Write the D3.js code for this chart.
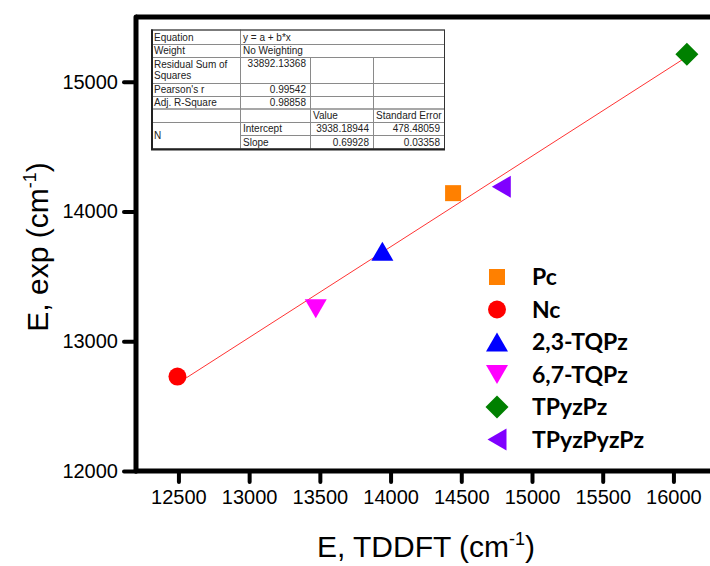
<!DOCTYPE html>
<html>
<head>
<meta charset="utf-8">
<script src="https://cdn.jsdelivr.net/npm/d3@7"></script>
<style>
  body { margin: 0; background: #fff; }
  svg { display: block; }
</style>
</head>
<body>
<svg id="chart" width="710" height="566"></svg>
<script>
// Excitation energies: TDDFT-computed vs. experimental (cm^-1)
const compounds = ["Pc", "Nc", "2,3-TQPz", "6,7-TQPz", "TPyzPz", "TPyzPyzPz"];
const eTDDFT   = [14442, 12493, 13942, 13471, 16095, 14783];
const eExp     = [14142, 12728, 13695, 13250, 15213, 14191];
const markerColors = ["#FF8000", "#FF0000", "#0000FF", "#FF00FF", "#008000", "#8000FF"];
const markerShapes = ["square", "circle", "triangleUp", "triangleDown", "diamond", "triangleLeft"];

const xTickValues = [12500, 13000, 13500, 14000, 14500, 15000, 15500, 16000];
const yTickValues = [12000, 13000, 14000, 15000];

// Linear fit y = a + b*x
const fitIntercept = 3938.18944;
const fitSlope = 0.69928;

// Fit statistics table: [rowStart, rowEnd, colStart, colEnd, text, align]
const tableCells = [
  [0, 1, 0, 1, "Equation", "start"], [0, 1, 1, 4, "y = a + b*x", "start"],
  [1, 2, 0, 1, "Weight", "start"], [1, 2, 1, 4, "No Weighting", "start"],
  [2, 3, 0, 1, "Residual Sum of|Squares", "start"], [2, 3, 1, 2, "33892.13368", "end"],
  [2, 3, 2, 3, "", "start"], [2, 3, 3, 4, "", "start"],
  [3, 4, 0, 1, "Pearson's r", "start"], [3, 4, 1, 2, "0.99542", "end"],
  [3, 4, 2, 3, "", "start"], [3, 4, 3, 4, "", "start"],
  [4, 5, 0, 1, "Adj. R-Square", "start"], [4, 5, 1, 2, "0.98858", "end"],
  [4, 5, 2, 3, "", "start"], [4, 5, 3, 4, "", "start"],
  [5, 6, 0, 1, "", "start"], [5, 6, 1, 2, "", "start"],
  [5, 6, 2, 3, "Value", "start"], [5, 6, 3, 4, "Standard Error", "start"],
  [6, 8, 0, 1, "N", "start"],
  [6, 7, 1, 2, "Intercept", "start"], [6, 7, 2, 3, "3938.18944", "end"], [6, 7, 3, 4, "478.48059", "end"],
  [7, 8, 1, 2, "Slope", "start"], [7, 8, 2, 3, "0.69928", "end"], [7, 8, 3, 4, "0.03358", "end"]
];

const svg = d3.select("#chart");
const W = 710, H = 566;
const plot = { left: 136, top: 17, bottom: 471 };

const x = d3.scaleLinear().domain([12200, 16300]).range([plot.left, plot.left + 4100 * 0.141428]);
const y = d3.scaleLinear().domain([12000, 15500]).range([plot.bottom, plot.top]);

const axisFont = "'Liberation Sans', Arial, sans-serif";

// ---- axes ----
const xAxis = svg.append("g")
  .attr("transform", `translate(0,${plot.bottom})`)
  .call(d3.axisBottom(x).tickValues(xTickValues).tickSize(11).tickPadding(8).tickFormat(d3.format("d")));
const yAxis = svg.append("g")
  .attr("transform", `translate(${plot.left},0)`)
  .call(d3.axisLeft(y).tickValues(yTickValues).tickSize(12).tickPadding(6).tickFormat(d3.format("d")));

[xAxis, yAxis].forEach(g => {
  g.select(".domain").remove();
  g.selectAll(".tick line").attr("stroke", "#000").attr("stroke-width", 4).attr("stroke-linecap", "round");
  g.selectAll(".tick text").attr("font-family", axisFont).attr("font-size", 20).attr("fill", "#000");
});

// frame: left, bottom and top spines (right side runs past the edge)
const frame = svg.append("g").attr("stroke", "#000").attr("stroke-width", 5).attr("stroke-linecap", "round");
frame.append("line").attr("x1", plot.left).attr("x2", W + 10).attr("y1", plot.bottom).attr("y2", plot.bottom);
frame.append("line").attr("x1", plot.left).attr("x2", plot.left).attr("y1", plot.top).attr("y2", plot.bottom);
frame.append("line").attr("x1", plot.left).attr("x2", W + 10).attr("y1", plot.top).attr("y2", plot.top)
  .attr("stroke-linecap", "butt");

// ---- axis titles ----
const xTitle = svg.append("text")
  .attr("x", 426).attr("y", 557)
  .attr("text-anchor", "middle")
  .attr("font-family", axisFont).attr("font-size", 30).attr("fill", "#000");
xTitle.append("tspan").text("E, TDDFT (cm");
xTitle.append("tspan").text("-1").attr("font-size", 18).attr("dy", -12);
xTitle.append("tspan").text(")").attr("dy", 12);

const yTitle = svg.append("text")
  .attr("transform", "translate(48,247) rotate(-90)")
  .attr("text-anchor", "middle")
  .attr("font-family", axisFont).attr("font-size", 30).attr("fill", "#000");
yTitle.append("tspan").text("E, exp (cm");
yTitle.append("tspan").text("-1").attr("font-size", 18).attr("dy", -12);
yTitle.append("tspan").text(")").attr("dy", 12);

// ---- fit line ----
const xExtent = d3.extent(eTDDFT);
svg.append("path")
  .datum(xExtent)
  .attr("d", d3.line().x(d => x(d)).y(d => y(fitIntercept + fitSlope * d)))
  .attr("stroke", "#FF0000").attr("stroke-width", 1).attr("stroke-opacity", 0.8).attr("fill", "none");

// ---- marker shapes, centred on their bounding box ----
function markerPath(shape) {
  const p = d3.path();
  switch (shape) {
    case "square": p.rect(-8, -8, 16, 16); break;
    case "circle": p.arc(0, 0, 9, 0, 2 * Math.PI); break;
    case "triangleUp": p.moveTo(0, -9.5); p.lineTo(11, 9.5); p.lineTo(-11, 9.5); p.closePath(); break;
    case "triangleDown": p.moveTo(0, 9.5); p.lineTo(11, -9.5); p.lineTo(-11, -9.5); p.closePath(); break;
    case "triangleLeft": p.moveTo(-9.5, 0); p.lineTo(9.5, -11); p.lineTo(9.5, 11); p.closePath(); break;
    case "diamond": p.moveTo(0, -11.5); p.lineTo(11.5, 0); p.lineTo(0, 11.5); p.lineTo(-11.5, 0); p.closePath(); break;
  }
  return p.toString();
}

// ---- data points ----
svg.append("g").selectAll("path")
  .data(compounds.map((c, i) => ({ c, xv: eTDDFT[i], yv: eExp[i], color: markerColors[i], shape: markerShapes[i] })))
  .join("path")
  .attr("transform", d => `translate(${x(d.xv)},${y(d.yv)})`)
  .attr("d", d => markerPath(d.shape))
  .attr("fill", d => d.color);

// ---- legend ----
const legend = svg.append("g").attr("transform", "translate(497,277)");
const rows = legend.selectAll("g").data(compounds).join("g")
  .attr("transform", (d, i) => `translate(0,${i * 32.5})`);
rows.append("path")
  .attr("d", (d, i) => markerPath(markerShapes[i]))
  .attr("fill", (d, i) => markerColors[i]);
rows.append("text")
  .attr("x", 35).attr("y", 8)
  .attr("font-family", "Lato, 'Open Sans', sans-serif")
  .attr("font-weight", "bold").attr("font-size", 23).attr("fill", "#000")
  .text(d => d);

// ---- fit statistics table ----
const colX = [151, 240, 310, 373, 444];
const rowY = [29.5, 44, 57, 83, 96, 108.5, 122, 135, 148.5];
const table = svg.append("g");
table.append("rect")
  .attr("x", colX[0]).attr("y", rowY[0])
  .attr("width", colX[4] - colX[0]).attr("height", rowY[8] - rowY[0])
  .attr("fill", "#fff");
const cell = table.selectAll("g").data(tableCells).join("g");
cell.append("rect")
  .attr("x", d => colX[d[2]] + 0.5).attr("y", d => rowY[d[0]] + 0.5)
  .attr("width", d => colX[d[3]] - colX[d[2]]).attr("height", d => rowY[d[1]] - rowY[d[0]])
  .attr("fill", "none").attr("stroke", "#8a8a8a").attr("stroke-width", 1);
cell.each(function (d) {
  if (!d[4]) return;
  const lines = d[4].split("|");
  const top = rowY[d[0]], bottom = rowY[d[1]];
  const tx = d[5] === "end" ? colX[d[3]] - 4 : colX[d[2]] + 3;
  const t = d3.select(this).append("text")
    .attr("text-anchor", d[5])
    .attr("font-family", axisFont).attr("font-size", 10).attr("fill", "#222");
  if (lines.length > 1) {
    lines.forEach((ln, k) => t.append("tspan").attr("x", tx).attr("y", top + 10.5 + k * 11.5).text(ln));
  } else if (d[1] - d[0] > 1 || (bottom - top) > 20) {
    const ty = d[1] - d[0] > 1 ? (top + bottom) / 2 + 4 : top + 10;
    t.attr("x", tx).attr("y", ty).text(d[4]);
  } else {
    t.attr("x", tx).attr("y", bottom - 3).text(d[4]);
  }
});
// outer border, heavier along the left and bottom
table.append("rect")
  .attr("x", colX[0] + 0.5).attr("y", rowY[0] + 0.5)
  .attr("width", colX[4] - colX[0]).attr("height", rowY[8] - rowY[0])
  .attr("fill", "none").attr("stroke", "#333").attr("stroke-width", 1);
table.append("line").attr("x1", colX[0] + 1).attr("x2", colX[0] + 1).attr("y1", rowY[0]).attr("y2", rowY[8] + 1.5)
  .attr("stroke", "#222").attr("stroke-width", 2);
table.append("line").attr("x1", colX[0]).attr("x2", colX[4] + 1).attr("y1", rowY[8] + 1).attr("y2", rowY[8] + 1)
  .attr("stroke", "#222").attr("stroke-width", 2);
</script>
</body>
</html>
